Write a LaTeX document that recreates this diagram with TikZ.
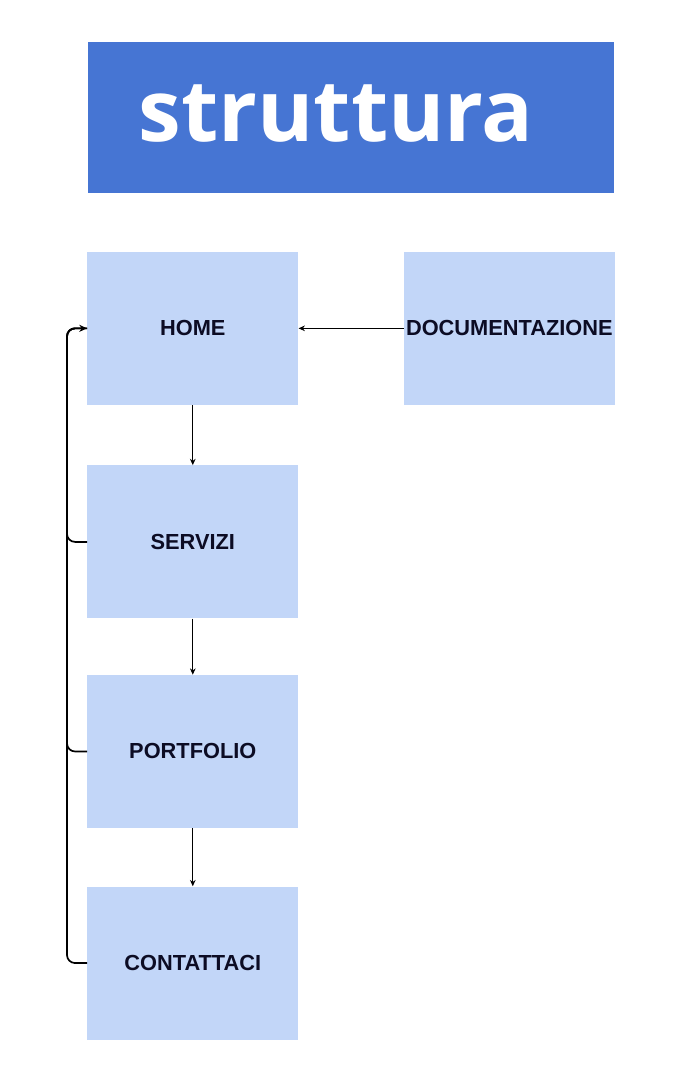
\documentclass[tikz,border=0pt]{standalone}
\usepackage{fontspec}
\setmainfont{Liberation Sans}
\newfontfamily\titlefont{Open Sans}
\usetikzlibrary{positioning, arrows.meta}
\definecolor{titleblue}{RGB}{70, 117, 211}
\definecolor{pageblue}{RGB}{194, 214, 248}
\definecolor{labelnavy}{RGB}{12, 12, 36}

\begin{document}
\begin{tikzpicture}[
    >=Stealth, % Arrow tip style
    titlebox/.style={ % Blue banner at the top
        rectangle,
        minimum width=13.15cm,
        minimum height=3.775cm,
        inner sep=0pt,
        draw=none,
        fill=titleblue
    },
    titletext/.style={
        font=\titlefont\bfseries\fontsize{61}{65}\selectfont,
        text=white,
        inner sep=0pt
    },
    % Style for the page boxes
    page/.style={
        rectangle,
        minimum width=5.275cm,
        minimum height=3.825cm,
        inner sep=0pt,
        text centered,
        font=\bfseries\fontsize{15.5}{18}\selectfont,
        text=labelnavy,
        draw=none,
        fill=pageblue
    },
    % Arrow styles
    down_arrow/.style={
        -{Stealth[length=4.5pt, width=4pt]},
        line width=0.7pt,
        draw=black
    },
    side_arrow/.style={
        -{Stealth[length=4.5pt, width=4pt]},
        line width=1pt,
        draw=black
    },
    back_line/.style={
        line width=1.2pt,
        rounded corners=0.2cm,
        draw=black
    }
]

% Fix the page size
\useasboundingbox (0,0) rectangle (16.8,-27);

% Title banner
\node[titlebox, anchor=north west] (title) at (2.2,-1.05) {};
\node[titletext] (title_txt) at ([xshift=-0.375cm, yshift=0.1cm]title.center) {struttura};

% Page boxes
\node[page, below=1.45cm of title.south west, anchor=north west, xshift=-0.025cm] (home) {HOME};
\node[page] (doc) [right=2.625cm of home] {DOCUMENTAZIONE};
\node[page] (servizi) [below=1.5cm of home] {SERVIZI};
\node[page] (portfolio) [below=1.4cm of servizi] {PORTFOLIO};
\node[page] (contattaci) [below=1.45cm of portfolio] {CONTATTACI};

% Arrows down the column
\draw[down_arrow] (home) -- (servizi);
\draw[down_arrow] (servizi) -- (portfolio);
\draw[down_arrow] (portfolio) -- (contattaci);

% Documentation back to home
\draw[side_arrow] (doc) -- (home);

% Links back to home on the left
\draw[back_line] (servizi.west) -- ++(-0.5,0) |- (home.west);
\draw[back_line] (portfolio.west) -- ++(-0.5,0) |- (home.west);
\draw[back_line, -{Stealth[length=5.5pt, width=5pt]}] (contattaci.west) -- ++(-0.5,0) |- (home.west);

\end{tikzpicture}
\end{document}
